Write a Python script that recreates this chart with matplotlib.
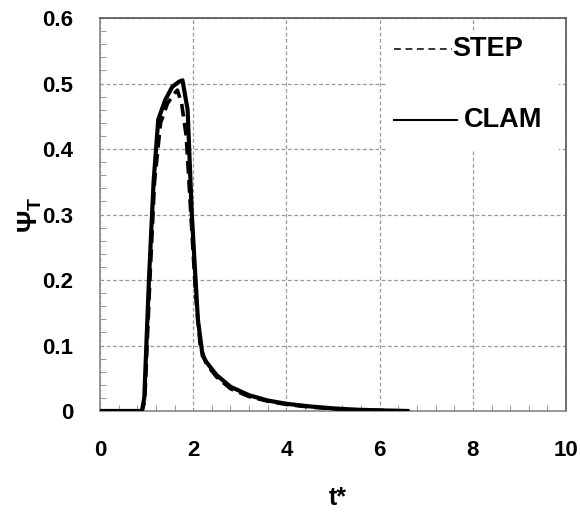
import matplotlib
matplotlib.use("Agg")
import matplotlib.pyplot as plt
from matplotlib.ticker import MultipleLocator
from matplotlib.patches import Rectangle

plt.rcParams['font.family'] = ['Liberation Sans', 'DejaVu Sans']
plt.rcParams['font.weight'] = 'bold'
plt.rcParams['mathtext.fontset'] = 'custom'
plt.rcParams['mathtext.rm'] = 'Liberation Sans:bold'
plt.rcParams['mathtext.bf'] = 'Liberation Sans:bold'

# Data
t_clam = [0.0, 0.9, 0.95, 1.05, 1.15, 1.25, 1.4, 1.55, 1.7, 1.77, 1.88, 1.97, 2.1, 2.2, 2.28, 2.5, 2.8, 3.2, 3.6, 4.0, 4.5, 5.0, 5.5, 6.0, 6.6]
psi_clam = [0.0, 0.0, 0.02, 0.2, 0.35, 0.445, 0.475, 0.495, 0.503, 0.505, 0.46, 0.3, 0.14, 0.085, 0.075, 0.055, 0.037, 0.024, 0.016, 0.011, 0.007, 0.004, 0.002, 0.001, 0.0]

t_step = [0.0, 0.9, 0.96, 1.07, 1.17, 1.3, 1.45, 1.6, 1.66, 1.75, 1.85, 1.95, 2.05, 2.15, 2.28, 2.5, 2.8, 3.2, 3.6, 4.0, 4.5, 5.0, 5.5, 6.0, 6.6]
psi_step = [0.0, 0.0, 0.015, 0.2, 0.35, 0.44, 0.47, 0.485, 0.49, 0.47, 0.42, 0.3, 0.18, 0.1, 0.072, 0.052, 0.034, 0.022, 0.015, 0.01, 0.006, 0.0035, 0.0018, 0.0008, 0.0]

x_ticks = [0, 2, 4, 6, 8, 10]
y_ticks = [0, 0.1, 0.2, 0.3, 0.4, 0.5, 0.6]
y_ticklabels = ['0', '0.1', '0.2', '0.3', '0.4', '0.5', '0.6']

fig = plt.figure(figsize=(5.8, 5.16), dpi=100)
ax = fig.add_axes([0.1724, 0.2035, 0.8036, 0.7615])

ax.plot(t_step, psi_step, color='black', lw=2.6, ls=(0, (3.5, 1.8)), zorder=3)
ax.plot(t_clam, psi_clam, color='black', lw=3.0, zorder=4)

ax.set_xlim(0, 10)
ax.set_ylim(0, 0.6)
ax.set_xticks(x_ticks)
ax.set_xticklabels([str(v) for v in x_ticks])
ax.set_yticks(y_ticks)
ax.set_yticklabels(y_ticklabels)
ax.xaxis.set_minor_locator(MultipleLocator(0.4))
ax.yaxis.set_minor_locator(MultipleLocator(0.02))
ax.tick_params(axis='both', which='both', direction='in', colors='#888888',
               labelcolor='black', labelsize=16)
ax.tick_params(axis='both', which='major', length=0)
ax.tick_params(axis='y', which='major', pad=19)
ax.tick_params(axis='x', which='major', pad=21)
ax.tick_params(axis='both', which='minor', length=4)

ax.grid(True, which='major', color='#999999', ls=(0, (3, 2)), lw=0.9)
for s in ['left', 'bottom']:
    ax.spines[s].set_color('#888888')
for s in ['top', 'right']:
    ax.spines[s].set_color('#555555')
for s in ax.spines.values():
    s.set_linewidth(1.2)

# white legend area covering grid
ax.add_patch(Rectangle((6.15, 0.397), 3.7, 0.18, facecolor='white', edgecolor='none',
                       zorder=2.5))
ax.plot([6.3, 7.55], [0.553, 0.553], color='black', lw=1.1, ls=(0, (4.5, 3)), zorder=5)
ax.text(7.55, 0.553, 'STEP', fontsize=19.5, fontweight='bold', va='center', ha='left', zorder=5)
ax.plot([6.3, 7.65], [0.445, 0.445], color='black', lw=1.5, zorder=5)
ax.text(7.8, 0.445, 'CLAM', fontsize=19.5, fontweight='bold', va='center', ha='left', zorder=5)

ax.set_xlabel('t*', fontsize=18, fontweight='bold')
ax.xaxis.set_label_coords(0.51, -0.19)
ax.set_ylabel('Ψ$_\\mathrm{T}$', fontsize=20, fontweight='bold')
ax.yaxis.set_label_coords(-0.12, 0.5)

fig.savefig('out.png', dpi=100)
